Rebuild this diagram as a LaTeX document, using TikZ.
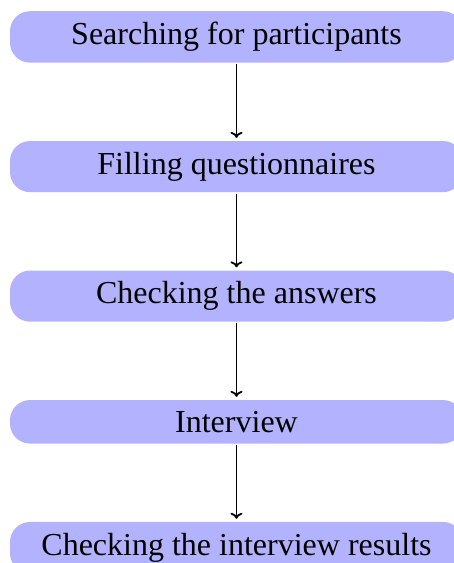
\documentclass[tikz,border=0pt]{standalone}
\usepackage{fontspec}
\setmainfont{Liberation Serif}
\usetikzlibrary{positioning,arrows.meta}
\begin{document}
\begin{tikzpicture}[
  x=1pt, y=1pt,
  stage/.style={fill=blue!30, draw=none, rounded corners=20pt,
    minimum width=453pt, inner xsep=0pt, inner ysep=11pt,
    font=\fontsize{32}{38}\selectfont},
  flow/.style={-{To[length=6pt,width=12pt]}, line width=1.8pt,
    shorten <=1.5pt, shorten >=3pt},
  node distance=78pt
]
\clip (0,0) rectangle (454,-563);
\useasboundingbox (0,0) rectangle (454,-563);
\node[stage, anchor=north] (s1) at (236.5,-11) {Searching for participants};
\node[stage, below=of s1] (s2) {Filling questionnaires};
\node[stage, below=of s2] (s3) {Checking the answers};
\node[stage, below=of s3] (s4) {Interview};
\node[stage, below=of s4] (s5) {Checking the interview results};
\draw[flow] (s1) -- (s2);
\draw[flow] (s2) -- (s3);
\draw[flow] (s3) -- (s4);
\draw[flow] (s4) -- (s5);
\end{tikzpicture}
\end{document}
